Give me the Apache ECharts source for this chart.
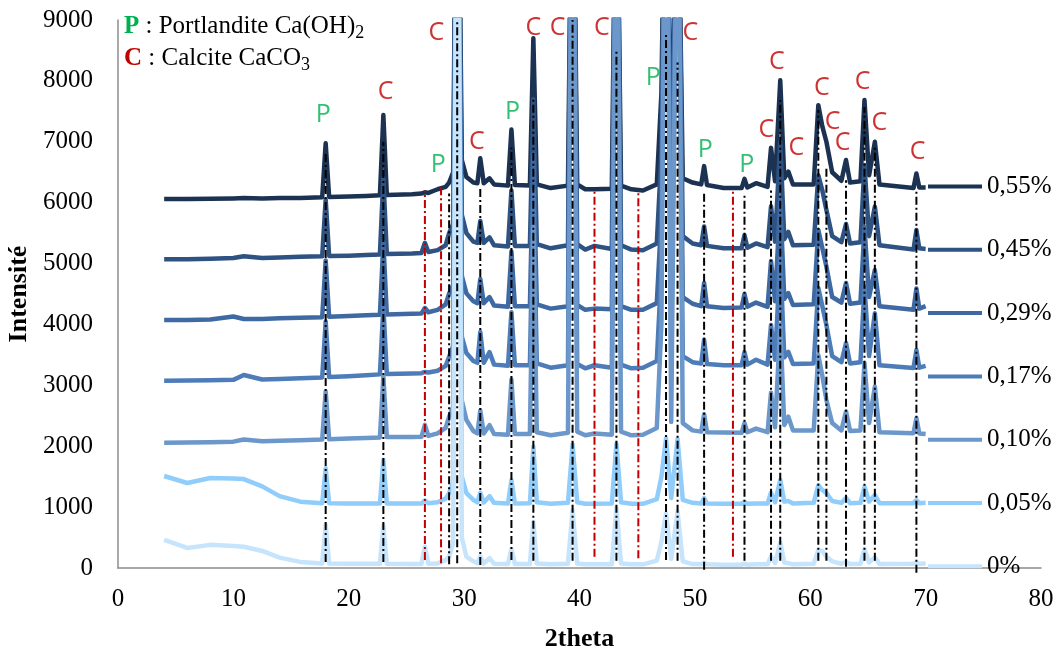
<!DOCTYPE html>
<html>
<head>
<meta charset="utf-8">
<script src="https://cdn.jsdelivr.net/npm/echarts@6/dist/echarts.min.js"></script>
<style>
html,body{margin:0;padding:0;background:#fff;}
#chart{width:1058px;height:650px;}
</style>
</head>
<body>
<div id="chart"></div>
<script>
// 2theta positions shared by all patterns
const twoTheta = [4,6,8,10,10.9,12.5,14,15.8,17.7,18,
  18.3,20,21.5,22.7,23,23.3,25.5,26.3,26.6,26.9,
  27.7,28.4,28.7,29.05,29.4,29.8,30.2,30.8,31.15,31.4,
  31.7,32.2,32.6,33.8,34.1,34.4,35.7,36,36.3,37.5,
  39,39.4,39.8,40.5,41.3,42.8,43.2,43.6,44.5,45.5,
  46.7,47.1,47.5,47.95,48.5,48.95,49.8,50.55,50.8,51.05,
  52.5,54.05,54.3,54.55,55.3,56.3,56.6,56.95,57.4,57.75,
  58.1,58.5,60.3,60.7,61.05,61.4,61.9,62.7,63.1,63.45,
  64.35,64.7,65.1,65.6,66,68.95,69.2,69.45,70];

const i055 = [6060,6060,6065,6070,6075,6070,6075,6075,6090,6975,
  6095,6100,6110,6120,7440,6125,6140,6150,6170,6160,
  6220,6260,6330,6500,14000,6700,6420,6330,6320,6730,
  6320,6400,6300,6280,7200,6290,6280,8700,6300,6240,
  6280,13000,6300,6220,6220,6230,12500,6280,6220,6200,
  6300,7800,13000,6400,12000,6400,6330,6300,6600,6290,
  6240,6240,6390,6250,6320,6260,6900,6350,8010,6400,
  6510,6300,6300,7600,7250,7000,6500,6360,6700,6330,
  6350,7685,6450,7000,6300,6240,6480,6250,6250];
const i045 = [5070,5070,5080,5090,5120,5090,5100,5110,5120,6050,
  5125,5130,5140,5150,6400,5155,5165,5175,5340,5190,
  5220,5300,5500,5650,14000,5800,5500,5360,5340,5700,
  5340,5430,5300,5280,6200,5290,5290,7700,5320,5250,
  5300,13500,5320,5230,5290,5240,13000,5300,5230,5220,
  5330,6800,13500,5450,12500,5450,5330,5300,5610,5290,
  5250,5250,5465,5260,5330,5270,5940,5360,7000,5400,
  5520,5300,5310,6450,6200,5880,5450,5350,5650,5330,
  5350,6620,5450,5935,5300,5230,5550,5250,5240];
const i029 = [4073,4075,4080,4130,4090,4090,4100,4110,4120,5050,
  4125,4140,4150,4160,5350,4165,4175,4180,4270,4200,
  4240,4330,4510,4650,14000,4800,4510,4380,4350,4745,
  4350,4450,4310,4290,5200,4300,4300,6800,4330,4260,
  4300,13500,4320,4240,4260,4250,13000,4300,4240,4240,
  4350,5800,13500,4450,12500,4450,4340,4300,4680,4300,
  4270,4280,4500,4290,4360,4290,5040,4380,6050,4420,
  4515,4320,4330,5550,5250,4950,4450,4360,4680,4340,
  4360,5600,4450,4895,4300,4240,4590,4260,4300];
const i017 = [3076,3080,3085,3090,3170,3095,3105,3115,3130,4050,
  3135,3150,3165,3180,4300,3185,3195,3200,3220,3210,
  3240,3320,3470,3650,14000,3800,3530,3400,3370,3875,
  3370,3545,3340,3320,4200,3330,3330,6200,3360,3290,
  3330,13500,3350,3280,3330,3290,13000,3340,3280,3290,
  3400,4900,13500,3500,12500,3480,3380,3360,3750,3350,
  3330,3330,3545,3340,3420,3340,3990,3420,5100,3460,
  3550,3350,3360,4600,4300,3990,3480,3380,3695,3360,
  3380,4620,3480,4185,3330,3285,3580,3290,3320];
const i010 = [2058,2060,2065,2075,2110,2080,2090,2100,2110,2900,
  2115,2125,2135,2145,3150,2150,2150,2155,2350,2170,
  2210,2300,2485,2650,14000,2750,2430,2250,2210,2585,
  2210,2345,2200,2190,3095,2200,2200,5600,2230,2180,
  2220,13500,2240,2180,2210,2190,13000,2240,2180,2190,
  2300,4000,13500,2400,12500,2380,2260,2240,2525,2230,
  2225,2220,2380,2230,2290,2230,2880,2310,4000,2350,
  2485,2260,2260,3500,3150,2760,2380,2260,2570,2250,
  2260,3365,2380,2980,2230,2215,2460,2210,2200];
const i005 = [1511,1396,1478,1470,1460,1340,1180,1090,1065,1640,
  1065,1060,1060,1060,1774,1060,1060,1060,1110,1065,
  1080,1140,1230,1400,14000,1500,1230,1120,1080,1237,
  1075,1180,1070,1060,1445,1060,1065,1990,1080,1055,
  1070,2030,1080,1055,1055,1060,2040,1080,1055,1055,
  1130,1500,2130,1150,2120,1120,1070,1060,1150,1060,
  1055,1055,1085,1055,1060,1060,1240,1080,1450,1090,
  1100,1060,1070,1360,1280,1230,1100,1070,1150,1065,
  1070,1335,1090,1200,1065,1065,1115,1065,1070];
const i000 = [460,330,380,360,350,280,170,100,75,710,
  75,70,70,70,706,70,65,65,350,70,
  75,130,185,400,14000,500,185,110,80,190,
  75,160,70,65,310,65,65,755,75,60,
  70,950,75,60,60,60,990,75,60,60,
  120,430,900,150,930,110,65,60,90,60,
  55,55,70,55,60,60,190,80,420,90,
  80,60,70,295,280,185,110,70,100,65,
  70,310,90,175,65,70,90,70,75];

const seriesNames = ['0,55%','0,45%','0,29%','0,17%','0,10%','0,05%','0%'];
const seriesValues = [i055,i045,i029,i017,i010,i005,i000];
const seriesColors = ['#1C3252','#2E5281','#3E69A2','#4E7CB8','#6B97CA','#90CDFB','#C6E4FC'];

// reference lines (black: identified peaks, red: other positions)
const blackX = [18.0,23.0,28.7,29.4,31.4,34.1,36.0,39.4,43.2,47.5,48.5,50.8,54.3,56.6,57.4,60.7,61.4,63.1,64.7,65.6,69.2];
const blackTop = [6800,7000,6150,9000,6260,6900,7700,9000,8500,8800,8300,6150,6150,6200,7680,7520,6600,6370,7570,6920,6200];
const blackBottom = [100,100,60,80,50,130,120,120,120,130,120,-30,120,120,120,120,120,20,120,120,-80];
const redX = [26.6,28.0,41.3,45.1,53.3];
const redTop = [6200,6290,6200,6180,6200];
const redBottom = [130,80,185,160,185];

// phase annotations
const labelText = ['P','C','C','P','C','P','C','C','C','P','C','P','P','C','C','C','C','C','C','C','C','C'];
const labelX = [17.8,23.2,27.6,27.75,31.1,34.2,36.0,38.1,41.95,46.4,49.6,50.9,54.5,56.2,57.1,58.8,61.0,61.95,62.8,64.55,66.0,69.3];
const labelY = [7440,7817,8786,6618,6996,7489,8868,8868,8868,8047,8786,6865,6618,7193,8310,6898,7883,7325,6980,7982,7308,6832];

const SERIF = 'Liberation Serif';
const series = [];
seriesNames.forEach(function(name, k){
  series.push({
    name: name, type: 'line', symbol: 'none', smooth: false,
    color: seriesColors[k],
    lineStyle: {width: 4.5, color: seriesColors[k], join: 'round'},
    data: twoTheta.map(function(x, i){ return [x, seriesValues[k][i]]; }),
    z: 2
  });
});
function addVLines(xs, tops, bottoms, color){
  xs.forEach(function(x, i){
    series.push({
      type: 'line', symbol: 'none', silent: true, clip: false,
      lineStyle: {width: 2, color: color, type: [8, 3, 2, 3]},
      data: [[x, bottoms[i]], [x, tops[i]]],
      z: 5
    });
  });
}
addVLines(blackX, blackTop, blackBottom, '#000000');
addVLines(redX, redTop, redBottom, '#C00000');
series.push({
  type: 'scatter', symbolSize: 0, silent: true, z: 6,
  data: labelText.map(function(t, i){
    return {name: t, value: [labelX[i], labelY[i]],
      label: {color: t === 'P' ? '#00B050' : '#C00000'}};
  }),
  label: {show: true, position: 'inside', formatter: '{b}',
    fontFamily: 'Open Sans', fontSize: 25}
});

const chart = echarts.init(document.getElementById('chart'));
chart.setOption({
  animation: false,
  backgroundColor: '#ffffff',
  grid: {left: 118, right: 17, top: 20, bottom: 82, containLabel: false, outerBoundsMode: 'none'},
  xAxis: {
    type: 'value', min: 0, max: 80, interval: 10,
    name: '2theta', nameLocation: 'middle', nameGap: 58,
    nameTextStyle: {fontFamily: SERIF, fontWeight: 'bold', fontSize: 26, color: '#000'},
    axisLine: {show: true, lineStyle: {color: '#8c8c8c', width: 1.5}},
    axisTick: {show: false},
    splitLine: {show: false},
    axisLabel: {fontFamily: SERIF, fontSize: 25, color: '#000', margin: 19}
  },
  yAxis: {
    type: 'value', min: 0, max: 9000, interval: 1000,
    name: 'Intensité', nameLocation: 'middle', nameGap: 86,
    nameTextStyle: {fontFamily: SERIF, fontWeight: 'bold', fontSize: 26, color: '#000'},
    axisLine: {show: true, lineStyle: {color: '#8c8c8c', width: 1.5}},
    axisTick: {show: false},
    splitLine: {show: false},
    axisLabel: {fontFamily: SERIF, fontSize: 25, color: '#000', margin: 25,
      formatter: function(v){ return String(v); }}
  },
  legend: {
    data: seriesNames, orient: 'vertical', left: 923, top: 169,
    icon: 'rect', itemWidth: 54, itemHeight: 4, itemGap: 38.3, itemTextGap: 5,
    padding: 5, selectedMode: false,
    textStyle: {fontFamily: SERIF, fontSize: 25, color: '#000', lineHeight: 24}
  },
  graphic: [{
    type: 'text', left: 124, top: 14, silent: true,
    style: {
      text: '{p|P}{t| : Portlandite Ca(OH)}{s|2}\n{c|C}{t| : Calcite CaCO}{s|3}',
      rich: {
        p: {fontFamily: SERIF, fontWeight: 'bold', fontSize: 25, fill: '#00B050', lineHeight: 32},
        c: {fontFamily: SERIF, fontWeight: 'bold', fontSize: 25, fill: '#C00000', lineHeight: 32},
        t: {fontFamily: SERIF, fontSize: 25, fill: '#000', lineHeight: 32},
        s: {fontFamily: SERIF, fontSize: 18, fill: '#000', lineHeight: 12, verticalAlign: 'bottom'}
      }
    }
  }],
  series: series
});
</script>
</body>
</html>
